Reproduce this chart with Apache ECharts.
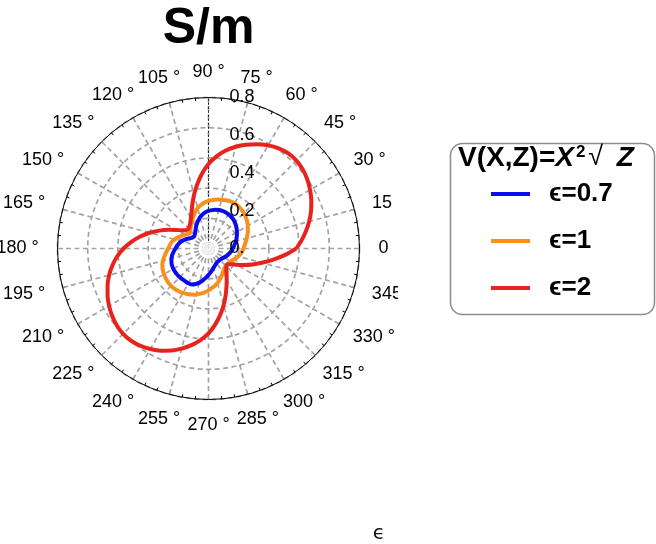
<!DOCTYPE html>
<html>
<head>
<meta charset="utf-8">
<script src="https://cdn.jsdelivr.net/npm/echarts@6/dist/echarts.min.js"></script>
<style>
  html, body { margin: 0; padding: 0; background: #ffffff; }
  #chart { width: 656px; height: 544px; }
</style>
</head>
<body>
<div id="chart"></div>
<script>
// Polar angles (degrees) at which each curve is sampled; 360 closes the loop.
const angles = [0, 5, 10, 15, 20, 25, 30, 35, 40, 45, 50, 55, 60, 65, 70, 75, 80, 85,
                90, 95, 100, 105, 110, 115, 120, 125, 130, 135, 140, 145, 150, 155, 160, 165, 170, 175,
                180, 185, 190, 195, 200, 205, 210, 215, 220, 225, 230, 235, 240, 245, 250, 255, 260, 265,
                270, 275, 280, 285, 290, 295, 300, 305, 310, 315, 320, 325, 330, 335, 340, 345, 350, 355, 360];

// Conductivity (S/m) for each epsilon, one value per angle above.
const sigmaEps07 = [0.13, 0.135, 0.142, 0.15, 0.158, 0.166, 0.174, 0.182, 0.19, 0.197, 0.203, 0.207, 0.21, 0.212, 0.212, 0.211, 0.208, 0.204,
                    0.199, 0.192, 0.183, 0.172, 0.158, 0.145, 0.132, 0.12, 0.11, 0.103, 0.10, 0.103, 0.11, 0.122, 0.135, 0.148, 0.158, 0.167,
                    0.175, 0.185, 0.195, 0.203, 0.209, 0.213, 0.215, 0.216, 0.216, 0.215, 0.214, 0.213, 0.213, 0.21, 0.20, 0.187, 0.172, 0.155,
                    0.14, 0.127, 0.115, 0.105, 0.097, 0.091, 0.087, 0.085, 0.085, 0.085, 0.087, 0.09, 0.095, 0.10, 0.106, 0.111, 0.117, 0.124, 0.13];
const sigmaEps1  = [0.185, 0.192, 0.20, 0.21, 0.22, 0.23, 0.24, 0.25, 0.258, 0.265, 0.27, 0.274, 0.276, 0.275, 0.272, 0.268, 0.263, 0.258,
                    0.252, 0.244, 0.234, 0.222, 0.205, 0.188, 0.173, 0.16, 0.147, 0.136, 0.128, 0.135, 0.145, 0.157, 0.172, 0.186, 0.198, 0.206,
                    0.213, 0.225, 0.237, 0.25, 0.26, 0.267, 0.272, 0.276, 0.279, 0.28, 0.279, 0.276, 0.272, 0.266, 0.26, 0.253, 0.243, 0.233,
                    0.222, 0.21, 0.20, 0.188, 0.175, 0.162, 0.15, 0.14, 0.133, 0.13, 0.13, 0.132, 0.136, 0.143, 0.152, 0.162, 0.172, 0.179, 0.185];
const sigmaEps2  = [0.465, 0.495, 0.524, 0.552, 0.578, 0.601, 0.621, 0.639, 0.652, 0.659, 0.658, 0.648, 0.631, 0.609, 0.585, 0.558, 0.527, 0.49,
                    0.448, 0.398, 0.345, 0.295, 0.25, 0.213, 0.186, 0.168, 0.156, 0.149, 0.152, 0.168, 0.196, 0.234, 0.277, 0.322, 0.367, 0.41,
                    0.45, 0.486, 0.517, 0.545, 0.569, 0.59, 0.608, 0.623, 0.634, 0.64, 0.638, 0.629, 0.615, 0.597, 0.575, 0.549, 0.52, 0.487,
                    0.45, 0.405, 0.357, 0.31, 0.265, 0.225, 0.193, 0.167, 0.147, 0.134, 0.131, 0.145, 0.172, 0.206, 0.247, 0.292, 0.345, 0.405, 0.465];

const seriesNames  = ['ϵ=0.7', 'ϵ=1', 'ϵ=2'];
const seriesValues = [sigmaEps07, sigmaEps1, sigmaEps2];
const seriesColors = ['#0b0bf0', '#f7901e', '#e8231e'];

// Angular tick labels (degrees) and radial tick labels along the 90° spoke.
const thetaTicks = [0, 15, 30, 45, 60, 75, 90, 105, 120, 135, 150, 165,
                    180, 195, 210, 225, 240, 255, 270, 285, 300, 315, 330, 345];
const radialTickValues = [0, 0.2, 0.4, 0.6, 0.8];
const radialTickLabels = ['0.', '0.2', '0.4', '0.6', '0.8'];

// The small ring drawn at the pole.
const poleMarker = [[0, 0]];

const FONT = "'Liberation Sans', Arial, 'DejaVu Sans', sans-serif";
const LABEL_SIZE = 18;
const THETA_LABEL_R = 0.9;          // anchor radius of the angular labels, in axis units
const gridStyle = { color: '#a3a3a3', width: 1.7, type: [5, 3.5] };

// Text widths are needed to push each angular label outward by half its box.
const measureCtx = document.createElement('canvas').getContext('2d');
measureCtx.font = LABEL_SIZE + 'px ' + FONT;
const thetaText = a => (a === 0 ? '0' : a + ' °');

const chart = echarts.init(document.getElementById('chart'), null, { renderer: 'canvas' });

const curveSeries = seriesNames.map((name, i) => ({
  type: 'line',
  name: name,
  coordinateSystem: 'polar',
  polarIndex: 0,
  data: angles.map((a, k) => [seriesValues[i][k], a]),
  smooth: 0.2,
  symbol: 'none',
  lineStyle: { color: seriesColors[i], width: 4, join: 'round' },
  itemStyle: { color: seriesColors[i] },
  z: 4
}));

chart.setOption({
  animation: false,
  backgroundColor: '#ffffff',
  polar: [
    { center: [208.5, 248.5], radius: 151 },
    { center: [208.5, 248.5], radius: 151 }
  ],
  angleAxis: [
    {
      polarIndex: 0,
      type: 'value',
      min: 0, max: 360, interval: 15,
      startAngle: 0,
      clockwise: false,
      axisLine: { show: true, lineStyle: { color: '#000', width: 1 } },
      axisTick: { show: true, inside: true, length: 5, lineStyle: { color: '#000', width: 1 } },
      minorTick: { show: true, splitNumber: 3, length: 3, lineStyle: { color: '#000', width: 1 } },
      axisLabel: { show: false },
      splitLine: { show: true, lineStyle: gridStyle }
    },
    {
      polarIndex: 1,
      type: 'value',
      min: 0, max: 360,
      startAngle: 90,
      clockwise: false,
      axisLine: { show: false },
      axisTick: { show: false },
      axisLabel: { show: false },
      splitLine: { show: false }
    }
  ],
  radiusAxis: [
    {
      polarIndex: 0,
      type: 'value',
      min: 0, max: 0.8, interval: 0.16,
      axisLine: { show: false },
      axisTick: { show: false },
      axisLabel: { show: false },
      splitLine: { show: true, lineStyle: gridStyle }
    },
    {
      polarIndex: 1,
      type: 'value',
      min: 0, max: 0.8, interval: 0.16,
      axisLine: { show: true, lineStyle: { color: '#222', width: 1, type: [1.5, 2.5] } },
      axisTick: { show: false },
      axisLabel: { show: false },
      splitLine: { show: false }
    }
  ],
  legend: {
    orient: 'vertical',
    left: 491,
    top: 181,
    padding: 0,
    itemWidth: 39,
    itemHeight: 30,
    itemGap: 21,
    icon: 'path://M0,0H39V4H0Z',
    selectedMode: false,
    z: 10,
    data: seriesNames,
    textStyle: {
      fontSize: 26,
      fontWeight: 'bold',
      fontFamily: FONT,
      color: '#000',
      padding: [0, 0, 0, 14]
    }
  },
  graphic: [
    {
      type: 'text', x: 208.5, y: 29, z: 10,
      style: { text: 'S/m', fontSize: 50, fontWeight: 'bold', fontFamily: FONT,
               fill: '#000', align: 'center', verticalAlign: 'middle' }
    },
    {
      // blank strip between the plot and the legend panel
      type: 'rect', z: 50,
      shape: { x: 398, y: 170, width: 51, height: 140 },
      style: { fill: '#ffffff' }
    },
    {
      type: 'rect', z: 1,
      shape: { x: 450.5, y: 143.5, width: 204, height: 171, r: 12 },
      style: { fill: '#ffffff', stroke: '#8c8c8c', lineWidth: 1.5 }
    },
    {
      type: 'text', x: 458, y: 158, z: 60,
      style: {
        text: '{b|V(X,Z)=}{i|X}{s|2}{r|√ }{i|Z}',
        align: 'left',
        verticalAlign: 'middle',
        rich: {
          b: { fontSize: 28, fontWeight: 'bold', fontFamily: FONT, fill: '#000' },
          i: { fontSize: 28, fontWeight: 'bold', fontStyle: 'italic', fontFamily: FONT, fill: '#000' },
          s: { fontSize: 17, fontWeight: 'bold', fontFamily: FONT, fill: '#000', verticalAlign: 'top', padding: [0, 3, 0, 2] },
          r: { fontSize: 27, fontFamily: FONT, fill: '#000', padding: [0, 6, 0, 0] }
        }
      }
    },
    {
      type: 'text', x: 379, y: 534, z: 10,
      style: { text: 'ϵ', fontSize: 20, fontFamily: "'DejaVu Sans', sans-serif",
               fill: '#111', align: 'center', verticalAlign: 'middle' }
    }
  ],
  series: curveSeries.concat([
    {
      type: 'scatter',
      coordinateSystem: 'polar',
      polarIndex: 0,
      data: poleMarker,
      symbol: 'emptyCircle',
      symbolSize: 11,
      itemStyle: { color: '#ffffff', borderColor: '#a8a8a8', borderWidth: 3 },
      z: 3,
      silent: true
    },
    {
      // radial tick labels beside the 90° spoke
      type: 'custom',
      coordinateSystem: 'polar',
      polarIndex: 0,
      data: radialTickValues.map((v, i) => [v, 90, i]),
      z: 6,
      silent: true,
      renderItem: (params, api) => {
        const p = api.coord([api.value(0), api.value(1)]);
        return {
          type: 'text',
          x: p[0] + 21,
          y: p[1],
          style: {
            text: radialTickLabels[api.value(2)],
            fontSize: LABEL_SIZE,
            fontFamily: FONT,
            fill: '#000',
            align: 'left',
            verticalAlign: 'middle'
          }
        };
      }
    },
    {
      // angular tick labels around the rim
      type: 'custom',
      coordinateSystem: 'polar',
      polarIndex: 0,
      data: thetaTicks.map(a => [THETA_LABEL_R, a]),
      z: 6,
      silent: true,
      renderItem: (params, api) => {
        const a = api.value(1);
        const p = api.coord([api.value(0), a]);
        const txt = thetaText(a);
        const w = measureCtx.measureText(txt).width;
        const rad = a * Math.PI / 180;
        return {
          type: 'text',
          x: p[0] + Math.cos(rad) * w / 2,
          y: p[1] - Math.sin(rad) * 7,
          style: {
            text: txt,
            fontSize: LABEL_SIZE,
            fontFamily: FONT,
            fill: '#000',
            align: 'center',
            verticalAlign: 'middle'
          }
        };
      }
    }
  ])
});
</script>
</body>
</html>
